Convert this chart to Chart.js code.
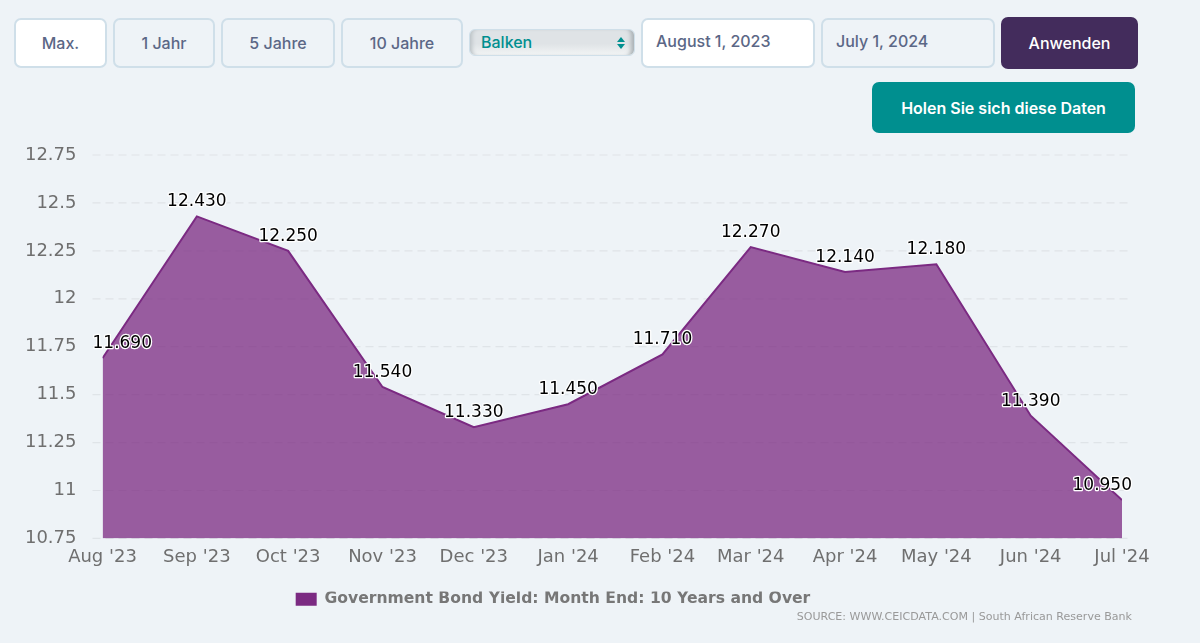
<!DOCTYPE html>
<html lang="de"><head><meta charset="utf-8">
<script src="https://cdn.jsdelivr.net/npm/chart.js@4"></script>
<style>
html,body{margin:0;padding:0;width:1200px;height:643px;background:#eef3f7;overflow:hidden}
.b{position:absolute;box-sizing:border-box;display:flex;align-items:center;justify-content:center;font:500 16px Inter,"Noto Sans",sans-serif;color:#5b6786;border:2px solid #cfdfe9;border-radius:7px;background:#eef3f7}
.w{background:#fff}
.d{justify-content:flex-start;padding-left:13px;padding-bottom:4px}
.sel{position:absolute;left:469px;top:29px;width:166px;height:27px;box-sizing:border-box;border:1px solid #cfdfe9;border-radius:6px;background:linear-gradient(#dfe3e6,#dfe3e6 55%,#f2f4f5);box-shadow:inset 5px 0 4px -3px #b9c0c4,inset -6px 0 4px -3px #aab1b5;font:500 16px Inter,"Noto Sans",sans-serif;color:#008f8f;line-height:25px;padding-left:11px}
.up,.dn{position:absolute;right:9px;width:0;height:0;border-left:4px solid transparent;border-right:4px solid transparent}
.up{top:7px;border-bottom:5px solid #008f8f}.dn{top:14px;border-top:5px solid #008f8f}
canvas{position:absolute;left:0;top:0}
#src{position:absolute;right:68px;top:610px;font:11.05px "DejaVu Sans",sans-serif;color:#999;white-space:nowrap}
</style></head><body>
<div class="b w" style="left:14px;top:18px;width:93px;height:50px">Max.</div>
<div class="b" style="left:113px;top:18px;width:102px;height:50px">1 Jahr</div>
<div class="b" style="left:221px;top:18px;width:114px;height:50px">5 Jahre</div>
<div class="b" style="left:341px;top:18px;width:122px;height:50px">10 Jahre</div>
<div class="sel">Balken<span class="up"></span><span class="dn"></span></div>
<div class="b w d" style="left:641px;top:18px;width:174px;height:50px">August 1, 2023</div>
<div class="b d" style="left:821px;top:18px;width:174px;height:50px">July 1, 2024</div>
<div class="b" style="left:1001px;top:17px;width:137px;height:52px;background:#432c5c;border:none;color:#fff">Anwenden</div>
<div class="b" style="left:872px;top:82px;width:263px;height:51px;background:#008f8f;border:none;color:#fff;font-weight:600">Holen Sie sich diese Daten</div>
<canvas id="c" width="1200" height="643"></canvas>
<div id="src">SOURCE: WWW.CEICDATA.COM | South African Reserve Bank</div>
<script>
const categories=["Aug '23","Sep '23","Oct '23","Nov '23","Dec '23","Jan '24","Feb '24","Mar '24","Apr '24","May '24","Jun '24","Jul '24"];
const dates=["2023-08-01","2023-09-01","2023-10-01","2023-11-01","2023-12-01","2024-01-01","2024-02-01","2024-03-01","2024-04-01","2024-05-01","2024-06-01","2024-07-01"];
const yields=[11.69,12.43,12.25,11.54,11.33,11.45,11.71,12.27,12.14,12.18,11.39,10.95];
const seriesName="Government Bond Yield: Month End: 10 Years and Over";
const yMin=10.75,yMax=12.75,yStep=0.25;
const FONT='"DejaVu Sans",sans-serif';
const times=dates.map(d=>Date.parse(d+"T00:00:00Z"));
const decor={id:'decor',
 afterLayout(ch){const l=ch.legend;l.left-=8;l.right-=8},
 beforeDatasetsDraw(ch){const{ctx}=ch,y=ch.scales.y,a=ch.chartArea;
  ctx.save();ctx.strokeStyle='#dfe4e8';ctx.lineWidth=1.2;ctx.setLineDash([8,5]);
  y.ticks.forEach(t=>{const p=y.getPixelForValue(t.value);ctx.beginPath();ctx.moveTo(a.left-10,p);ctx.lineTo(a.right+10,p);ctx.stroke()});
  ctx.restore()},
 afterDatasetsDraw(ch){const{ctx}=ch,m=ch.getDatasetMeta(0),a=ch.chartArea;
  ctx.save();ctx.font='17px '+FONT;ctx.textAlign='center';ctx.textBaseline='middle';ctx.lineJoin='round';
  m.data.forEach((pt,i)=>{const s=yields[i].toFixed(3),w=ctx.measureText(s).width;
   const x=Math.min(Math.max(pt.x,a.left-10+w/2),a.right+10-w/2),yy=pt.y-14.5;
   ctx.lineWidth=2.5;ctx.strokeStyle='#fff';ctx.strokeText(s,x,yy);ctx.fillStyle='#000';ctx.fillText(s,x,yy)});
  ctx.restore()}};
new Chart(document.getElementById('c'),{type:'line',
 data:{datasets:[{label:seriesName,data:yields.map((v,i)=>({x:times[i],y:v})),borderColor:'#7b2a82',borderWidth:2,backgroundColor:'rgba(123,42,130,0.75)',fill:'start',tension:0,pointRadius:0}]},
 options:{responsive:false,animation:false,parsing:false,
  layout:{padding:{left:0,right:78,top:155,bottom:26}},
  plugins:{tooltip:{enabled:false},legend:{display:true,position:'bottom',align:'center',
    labels:{boxWidth:21,boxHeight:13,padding:0,color:'#777',font:{family:FONT,size:15.6,weight:'bold'},
     generateLabels:c=>[{text:seriesName,fillStyle:'#7b2a82',strokeStyle:'#7b2a82',lineWidth:0,fontColor:'#777'}]}}},
  scales:{
   x:{type:'linear',min:times[0],max:times[times.length-1],grid:{display:false},border:{display:false},
      afterBuildTicks(s){s.ticks=times.map(v=>({value:v}))},afterFit(s){s.height=53},
      ticks:{color:'#6f6f6f',font:{family:FONT,size:18},maxRotation:0,autoSkip:false,padding:0,callback:v=>categories[times.indexOf(v)]}},
   y:{min:yMin,max:yMax,grid:{display:false},border:{display:false},afterFit(s){s.width=102.5},
      ticks:{stepSize:yStep,color:'#6f6f6f',font:{family:FONT,size:18},padding:18,callback:v=>String(v)}}
  }},plugins:[decor]});
</script></body></html>
